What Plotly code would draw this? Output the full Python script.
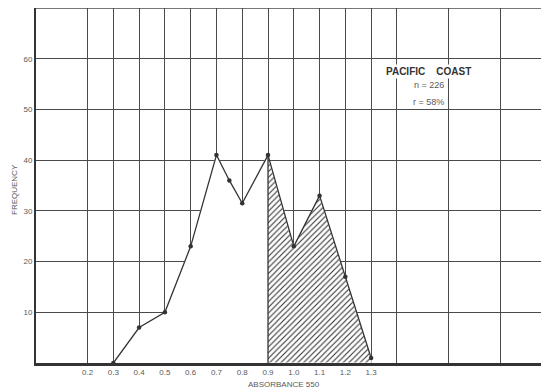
import plotly.graph_objects as go

# ---- data ----
absorbance = [0.3, 0.4, 0.5, 0.6, 0.7, 0.75, 0.8, 0.9, 1.0, 1.1, 1.2, 1.3]
frequency = [0, 7, 10, 23, 41, 36, 31.5, 41, 23, 33, 17, 1]
shade_from = 0.9  # hatched part starts here

x_tick_vals = [0.2, 0.3, 0.4, 0.5, 0.6, 0.7, 0.8, 0.9, 1.0, 1.1, 1.2, 1.3]
x_tick_labels = ["0.2", "0.3", "0.4", "0.5", "0.6", "0.7", "0.8", "0.9", "1.0", "1.1", "1.2", "1.3"]
x_extra_grid = [1.4, 1.6, 1.8]
y_tick_vals = [10, 20, 30, 40, 50, 60]
y_tick_labels = ["10", "20", "30", "40", "50", "60"]

title_text = "<b>PACIFIC\u00a0\u00a0\u00a0\u00a0COAST</b>"
n_text = "n = 226"
r_text = "r = 58%"

INK = "#333333"
GRID = "#4a4a4a"
LABEL = "#5a5a5a"
FONT = "Liberation Sans, Arial, sans-serif"

left_x = [x for x in absorbance if x <= shade_from]
left_y = [y for x, y in zip(absorbance, frequency) if x <= shade_from]
right_x = [x for x in absorbance if x >= shade_from]
right_y = [y for x, y in zip(absorbance, frequency) if x >= shade_from]

# closed polygons (curve + baseline)
left_px = left_x + [left_x[-1], left_x[0]]
left_py = left_y + [0, 0]
right_px = right_x + [right_x[-1], right_x[0]]
right_py = right_y + [0, 0]

fig = go.Figure()

# white area under the unshaded part (hides the grid)
fig.add_trace(go.Scatter(x=left_px, y=left_py, mode="lines", fill="toself",
                         fillcolor="white", line=dict(width=1, color="white"),
                         hoverinfo="skip", showlegend=False))
# hatched area
fig.add_trace(go.Scatter(x=right_px, y=right_py, mode="lines", fill="toself",
                         fillcolor="white", line=dict(width=1, color="white"),
                         hoverinfo="skip",
                         fillpattern=dict(shape="/", fgcolor=INK, bgcolor="white",
                                          size=4, solidity=0.28, fillmode="replace"),
                         showlegend=False))
# vertical edge of the hatched area
fig.add_trace(go.Scatter(x=[shade_from, shade_from], y=[0, right_y[0]], mode="lines",
                         line=dict(color=INK, width=1.3), hoverinfo="skip",
                         showlegend=False))
# frequency polygon
fig.add_trace(go.Scatter(x=absorbance, y=frequency, mode="lines+markers",
                         line=dict(color=INK, width=1.3),
                         marker=dict(color=INK, size=4.5),
                         showlegend=False))

fig.update_xaxes(range=[0, 1.99], automargin=False,
                 tickmode="array",
                 tickvals=x_tick_vals + x_extra_grid,
                 ticktext=x_tick_labels + ["" for _ in x_extra_grid],
                 showgrid=True, gridcolor=GRID, gridwidth=1.3,
                 showline=True, linecolor=INK, linewidth=2.5,
                 zeroline=False, ticks="",
                 tickfont=dict(family=FONT, size=8, color=LABEL))
fig.update_yaxes(range=[0, 70], automargin=False,
                 tickmode="array",
                 tickvals=y_tick_vals, ticktext=y_tick_labels,
                 showgrid=True, gridcolor=GRID, gridwidth=1.3,
                 showline=True, linecolor=INK, linewidth=2,
                 zeroline=False, ticks="",
                 tickfont=dict(family=FONT, size=8, color=LABEL))

# the page has an 8px body margin, so the figure is sized to fill the rest of the window
fig.update_layout(
    width=541, height=383,
    margin=dict(l=28, r=0, t=0, b=28, pad=0, autoexpand=False),
    paper_bgcolor="white", plot_bgcolor="white",
    shapes=[dict(type="line", xref="paper", yref="paper", x0=0, x1=1, y0=1, y1=1,
                 line=dict(color=GRID, width=1.3))],
    annotations=[
        dict(text=title_text, x=1.524, y=57.4, xref="x", yref="y", showarrow=False,
             font=dict(family=FONT, size=10, color=INK), xanchor="center", yanchor="middle",
             bgcolor="white"),
        dict(text=n_text, x=1.524, y=54.9, xref="x", yref="y", showarrow=False,
             font=dict(family=FONT, size=9, color=LABEL), xanchor="center", yanchor="middle"),
        dict(text=r_text, x=1.524, y=51.4, xref="x", yref="y", showarrow=False,
             font=dict(family=FONT, size=9, color=LABEL), xanchor="center", yanchor="middle"),
        dict(text="ABSORBANCE 550", x=(284 - 36) / 513, y=(363 - 385) / 355, xref="paper", yref="paper",
             showarrow=False, font=dict(family=FONT, size=8, color=LABEL),
             xanchor="center", yanchor="middle"),
        dict(text="FREQUENCY", x=(14 - 36) / 513, y=(363 - 190) / 355, xref="paper", yref="paper",
             showarrow=False, textangle=-90, font=dict(family=FONT, size=8, color=LABEL),
             xanchor="center", yanchor="middle"),
    ],
)

fig.write_html("out.html")
